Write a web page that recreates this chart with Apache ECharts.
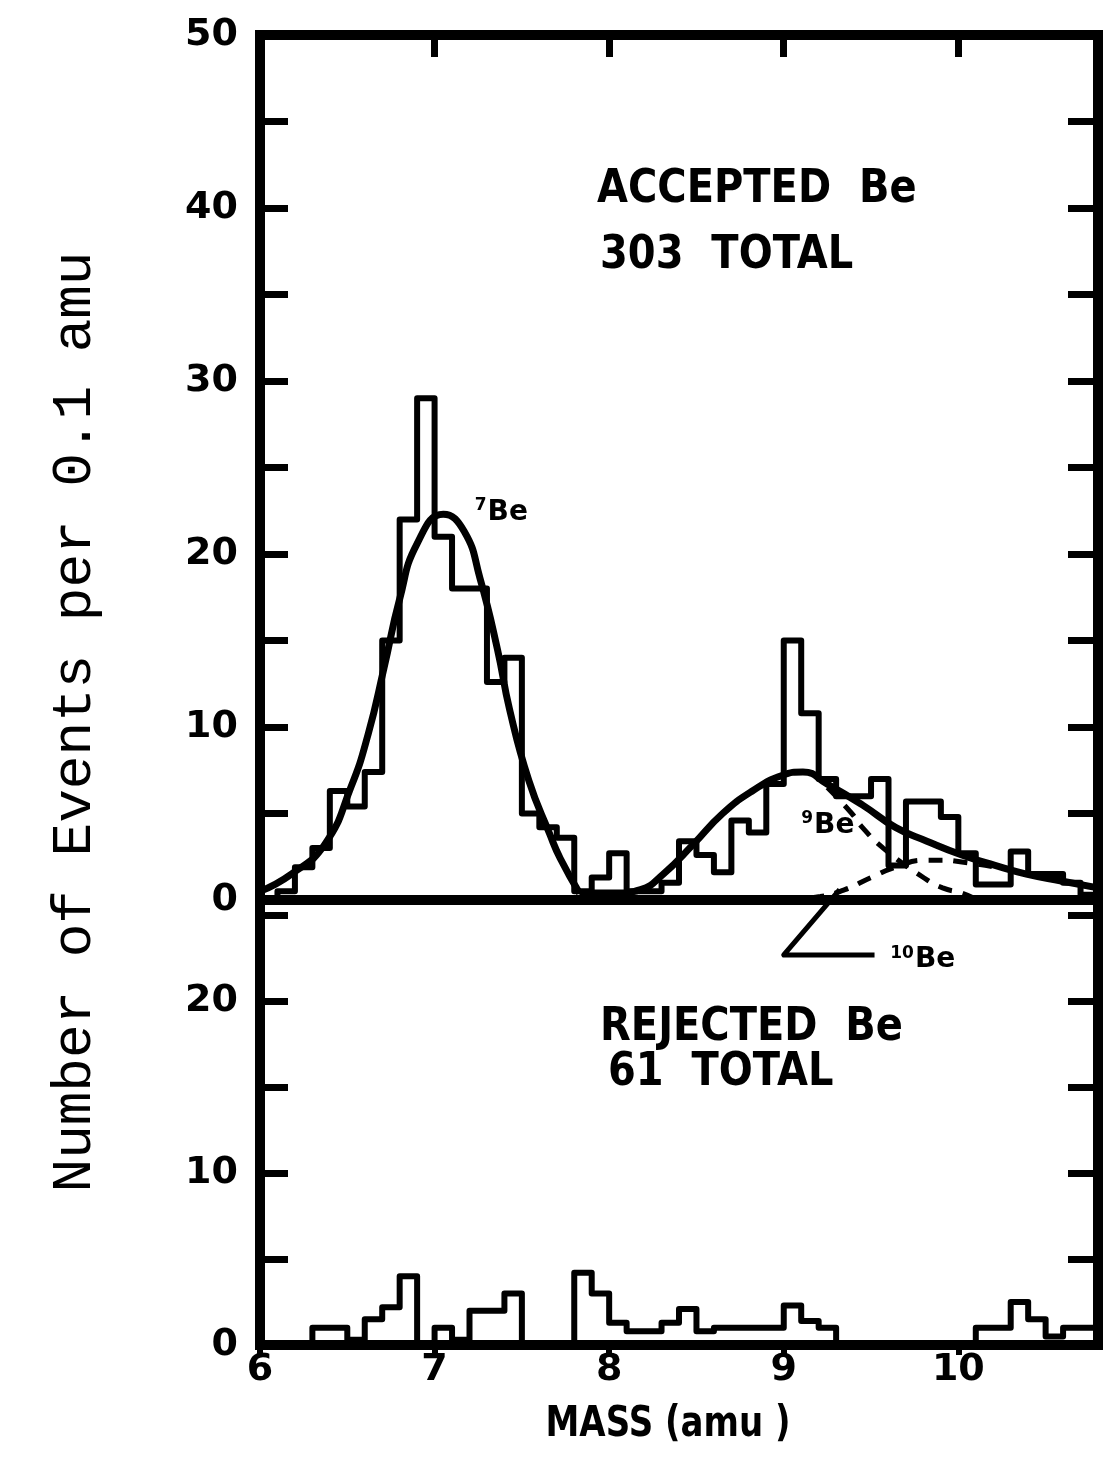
<!DOCTYPE html>
<html>
<head>
<meta charset="utf-8">
<script src="https://cdn.jsdelivr.net/npm/echarts@6/dist/echarts.min.js"></script>
<style>
  html, body { margin: 0; padding: 0; background: #fff; }
  #main { width: 1107px; height: 1460px; }
</style>
</head>
<body>
<div id="main"></div>
<script>
// bin left edges, 0.1 amu wide
let massBins = [
  6.0, 6.1, 6.2, 6.3, 6.4, 6.5, 6.6, 6.7, 6.8, 6.9,
  7.0, 7.1, 7.2, 7.3, 7.4, 7.5, 7.6, 7.7, 7.8, 7.9,
  8.0, 8.1, 8.2, 8.3, 8.4, 8.5, 8.6, 8.7, 8.8, 8.9,
  9.0, 9.1, 9.2, 9.3, 9.4, 9.5, 9.6, 9.7, 9.8, 9.9,
  10.0, 10.1, 10.2, 10.3, 10.4, 10.5, 10.6, 10.7
]
let massEnd = 10.8

// accepted Be, events per bin
let acceptedCounts = [
  0, 0.5, 1.9, 3, 6.3, 5.4, 7.4, 15, 22, 29,
  21, 18, 18, 12.6, 14, 5, 4.2, 3.6, 0.5, 1.3,
  2.7, 0.5, 0.5, 1, 3.4, 2.6, 1.6, 4.6, 3.9, 6.7,
  15, 10.8, 7, 6, 6, 7, 2, 5.7, 5.7, 4.8,
  2.7, 0.9, 0.9, 2.8, 1.5, 1.5, 1, 0.3
]

// rejected Be, events per bin
let rejectedCounts = [
  0, 0, 0, 1, 1, 0.3, 1.5, 2.2, 4, 0,
  1, 0.3, 2, 2, 3, 0, 0, 0, 4.2, 3,
  1.3, 0.8, 0.8, 1.3, 2.1, 0.8, 1, 1, 1, 1,
  2.3, 1.4, 1, 0, 0, 0, 0, 0, 0, 0,
  0, 1, 1, 2.5, 1.5, 0.5, 1, 1
]

// fitted curves
let be7Mass = [6.0, 6.18, 6.37, 6.52, 6.62, 6.71, 6.80, 6.90, 7.05, 7.17, 7.26, 7.36, 7.43, 7.54, 7.66, 7.72, 7.83]
let be7Fit  = [0.5, 1.5, 3.2, 6.5, 9.6, 13.4, 17.4, 20.6, 22.3, 21.3, 18.6, 14.5, 11.0, 6.9, 3.8, 2.4, 0.4]

let sumMass = [7.83, 8.04, 8.18, 8.31, 8.48, 8.65, 8.82, 8.99, 9.11, 9.25, 9.45, 9.64, 9.82, 10.02, 10.21, 10.39, 10.59, 10.8]
let sumFit  = [0.4, 0.4, 0.6, 1.5, 3.2, 5.0, 6.3, 7.2, 7.4, 6.7, 5.5, 4.2, 3.4, 2.6, 2.0, 1.5, 1.1, 0.7]

let be9Mass = [9.25, 9.39, 9.45, 9.57, 9.80, 9.91, 10.02, 10.09]
let be9Fit  = [6.5, 5.0, 4.2, 3.0, 1.3, 0.7, 0.4, 0.1]

let be10Mass = [9.01, 9.21, 9.35, 9.50, 9.64, 9.81, 9.90, 10.02, 10.21]
let be10Fit  = [0, 0.2, 0.6, 1.3, 1.9, 2.3, 2.3, 2.2, 1.9]

let xTicks = [6, 7, 8, 9, 10]

function pairs(xs, ys) {
  return xs.map((x, i) => [x, ys[i]])
}

// step histogram: each point is a bin's left edge, last point closes the last bin
function stepData(counts) {
  let pts = massBins.map((m, i) => [m, counts[i]])
  pts.push([massEnd, counts[counts.length - 1]])
  return pts
}

let chart = echarts.init(document.getElementById('main'), null, { renderer: 'canvas' })

const black = '#000'
const labelFont = { color: black, fontFamily: 'DejaVu Sans', fontWeight: 'bold', fontSize: 38 }

function yLeft(gridIndex, max) {
  return {
    gridIndex: gridIndex, type: 'value', min: 0, max: max, interval: 5, position: 'left',
    axisLine: { show: false, onZero: false },
    axisTick: { show: true, inside: true, length: 28, lineStyle: { color: black, width: 7 } },
    splitLine: { show: false },
    axisLabel: Object.assign({
      margin: 22,
      formatter: v => (v % 10 === 0 ? String(v) : '')
    }, labelFont)
  }
}
function yRight(gridIndex, max) {
  return {
    gridIndex: gridIndex, type: 'value', min: 0, max: max, interval: 5, position: 'right',
    axisLine: { show: false, onZero: false },
    axisTick: { show: true, inside: true, length: 30, lineStyle: { color: black, width: 7 } },
    splitLine: { show: false },
    axisLabel: { show: false }
  }
}

let option = {
  animation: false,
  backgroundColor: '#fff',
  grid: [
    { left: 260, right: 9, top: 35, height: 865, show: true, borderColor: black, borderWidth: 10, backgroundColor: 'transparent' },
    { left: 260, right: 9, top: 900, height: 445, show: true, borderColor: black, borderWidth: 10, backgroundColor: 'transparent' }
  ],
  xAxis: [
    {
      gridIndex: 0, type: 'value', min: 6, max: massEnd, interval: 1, position: 'top',
      axisLine: { show: false, onZero: false },
      axisTick: { show: true, inside: true, length: 22, lineStyle: { color: black, width: 7 } },
      splitLine: { show: false },
      axisLabel: { show: false }
    },
    {
      gridIndex: 1, type: 'value', min: 6, max: massEnd, interval: 1, position: 'bottom',
      axisLine: { show: false, onZero: false },
      axisTick: { show: true, inside: false, length: 10, lineStyle: { color: black, width: 6 } },
      splitLine: { show: false },
      axisLabel: Object.assign({
        margin: 6, showMaxLabel: false,
        formatter: v => (xTicks.indexOf(v) >= 0 ? String(v) : '')
      }, labelFont)
    }
  ],
  yAxis: [yLeft(0, 50), yRight(0, 50), yLeft(1, 25.9), yRight(1, 25.9)],
  series: [
    {
      name: 'accepted', type: 'line', xAxisIndex: 0, yAxisIndex: 0, step: 'end',
      data: stepData(acceptedCounts), showSymbol: false,
      lineStyle: { color: black, width: 6, join: 'round' }
    },
    {
      name: '7Be fit', type: 'line', xAxisIndex: 0, yAxisIndex: 0, smooth: 0.5,
      data: pairs(be7Mass, be7Fit), showSymbol: false,
      lineStyle: { color: black, width: 7 }
    },
    {
      name: '9Be+10Be fit', type: 'line', xAxisIndex: 0, yAxisIndex: 0, smooth: 0.5,
      data: pairs(sumMass, sumFit), showSymbol: false,
      lineStyle: { color: black, width: 7 }
    },
    {
      name: '9Be', type: 'line', xAxisIndex: 0, yAxisIndex: 0, smooth: 0.5,
      data: pairs(be9Mass, be9Fit), showSymbol: false,
      lineStyle: { color: black, width: 5, type: [14, 11] }
    },
    {
      name: '10Be', type: 'line', xAxisIndex: 0, yAxisIndex: 0, smooth: 0.5,
      data: pairs(be10Mass, be10Fit), showSymbol: false,
      lineStyle: { color: black, width: 5, type: [14, 11] }
    },
    {
      name: 'rejected', type: 'line', xAxisIndex: 1, yAxisIndex: 2, step: 'end',
      data: stepData(rejectedCounts), showSymbol: false,
      lineStyle: { color: black, width: 6, join: 'round' }
    }
  ]
}

chart.setOption(option)

// annotations placed through the chart's own coordinate system
let p0 = v => chart.convertToPixel({ gridIndex: 0 }, v)
let p1 = v => chart.convertToPixel({ gridIndex: 1 }, v)

let tip = p0([9.32, 0.6])
let corner = p1([9.0, 22.7])
let tail = p1([9.52, 22.7])

let bigText = { fill: black, fontFamily: 'DejaVu Sans', fontWeight: 'bold', fontSize: 40, textVerticalAlign: 'middle' }
let isoRich = {
  s: { fontFamily: 'DejaVu Sans', fontWeight: 'bold', fontSize: 17, verticalAlign: 'top', padding: [0, 1, 14, 0] },
  b: { fontFamily: 'DejaVu Sans', fontWeight: 'bold', fontSize: 28 }
}
function iso(pos, mass) {
  return {
    type: 'text', x: pos[0], y: pos[1], z: 10,
    style: { text: '{s|' + mass + '}{b|Be}', rich: isoRich, fill: black, textVerticalAlign: 'middle' }
  }
}

chart.setOption({
  graphic: [
    {
      type: 'text', x: 75, y: 722, rotation: Math.PI / 2, z: 10,
      style: { text: 'Number of Events per 0.1 amu', fill: black, fontFamily: 'Liberation Mono', fontSize: 56, textAlign: 'center', textVerticalAlign: 'middle' }
    },
    { type: 'text', x: 597, y: 190, scaleY: 1.15, z: 10, style: Object.assign({ text: 'ACCEPTED  Be' }, bigText) },
    { type: 'text', x: 600, y: 256, scaleY: 1.15, z: 10, style: Object.assign({ text: '303  TOTAL' }, bigText) },
    { type: 'text', x: 600, y: 1028, scaleY: 1.15, z: 10, style: Object.assign({ text: 'REJECTED  Be' }, bigText) },
    { type: 'text', x: 608, y: 1073, scaleY: 1.15, z: 10, style: Object.assign({ text: '61  TOTAL' }, bigText) },
    {
      type: 'text', x: 668, y: 1425, scaleY: 1.25, z: 10,
      style: { text: 'MASS (amu )', fill: black, fontFamily: 'DejaVu Sans', fontWeight: 'bold', fontSize: 34, textAlign: 'center', textVerticalAlign: 'middle' }
    },
    iso(p0([7.23, 22.4]), '7'),
    iso(p0([9.1, 4.3]), '9'),
    iso(p1([9.61, 22.4]), '10'),
    {
      type: 'polyline', z: 10,
      shape: { points: [tip, corner, tail] },
      style: { stroke: black, lineWidth: 5, fill: null, lineJoin: 'round' }
    }
  ]
})
</script>
</body>
</html>
